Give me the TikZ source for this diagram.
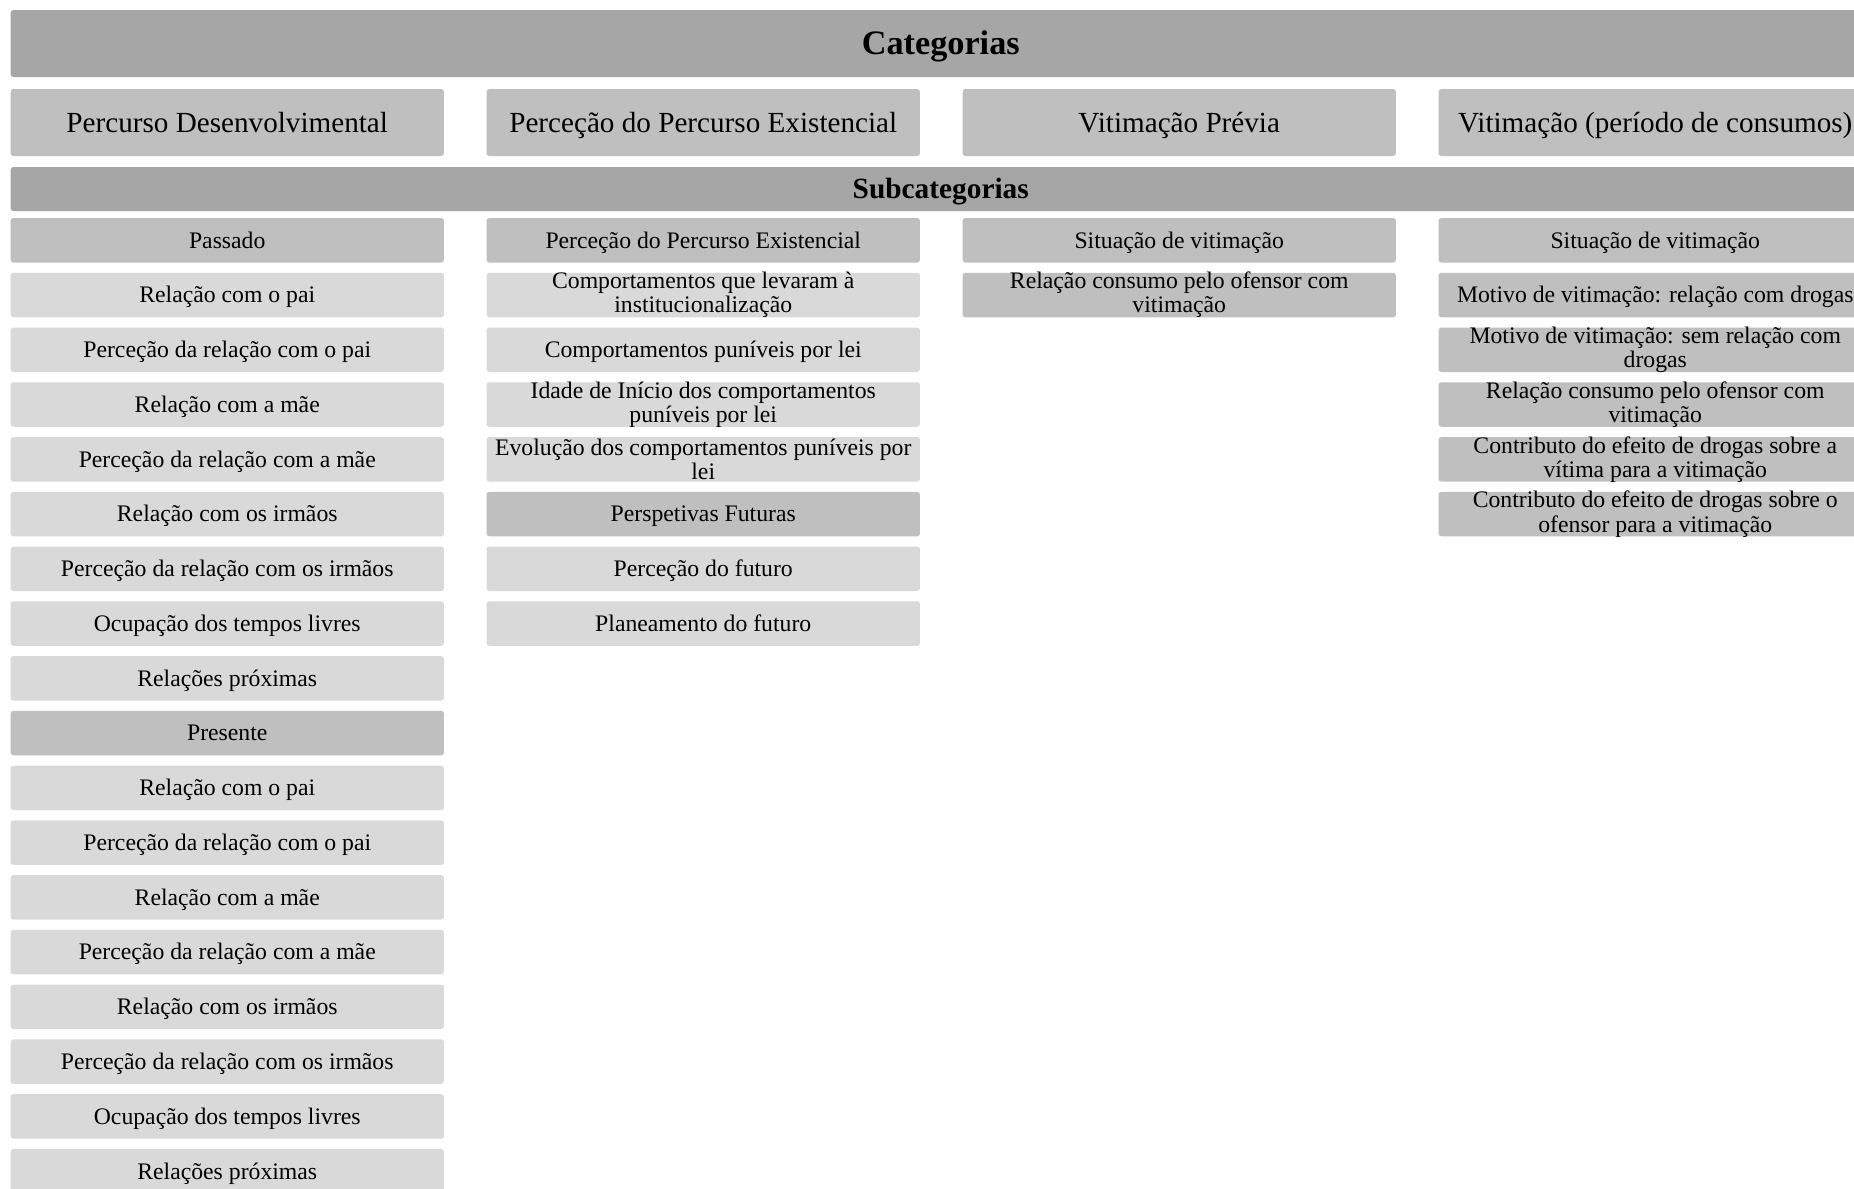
\documentclass[tikz,border=0pt]{standalone}
\usepackage{fontspec}
\setmainfont{Liberation Serif}

\definecolor{headgray}{HTML}{A6A6A6}
\definecolor{catgray}{HTML}{BFBFBF}
\definecolor{itemgray}{HTML}{D9D9D9}

\tikzset{
  box/.style={rectangle, rounded corners=1.6pt, inner sep=0pt,
    minimum width=8.67cm, minimum height=0.89cm, text depth=0pt},
  headbar/.style={box, fill=headgray, minimum width=37.21cm},
  catbox/.style={box, fill=catgray, minimum height=1.34cm,
    font=\fontsize{16.6}{18}\selectfont, text height=11pt},
  subbox/.style={box, fill=catgray},
  itembox/.style={box, fill=itemgray},
  every label/.style={inner sep=0pt, align=center,
    font=\fontsize{13.5}{13.8}\selectfont,
    text height=8.9pt, text depth=0pt},
  twoline/.style={text height={}, text depth={}},
}

\begin{document}
\begin{tikzpicture}[x=0.02cm, y=-0.02cm]
% Set the page size (the right column runs off the page)
\clip (0, 0) rectangle (1854, 1188);

% Draw the headers
\node[headbar, minimum height=1.34cm, text height=12.9pt, font=\fontsize{19.5}{21}\selectfont\bfseries] (cat) at (940.75, 43.5) {Categorias};
\node[headbar, minimum height=0.88cm, text height=11.1pt, font=\fontsize{16.7}{18}\selectfont\bfseries] (sub) at (940.75, 189) {Subcategorias};

% Draw the categories
\node[catbox] (pd) at (227.25, 122.5) {Percurso Desenvolvimental};
\node[catbox] (pe) at (703.25, 122.5) {Perceção do Percurso Existencial};
\node[catbox] (vp) at (1179.25, 122.5) {Vitimação Prévia};
\node[catbox] (vc) at (1655.25, 122.5) {Vitimação (período de consumos)};

% Percurso Desenvolvimental
\node[subbox, label={center:Passado}] (p0) at (227.25, 240.25) {};
\node[itembox, label={center:Relação com o pai}] (p1) at (227.25, 295.01) {};
\node[itembox, label={center:Perceção da relação com o pai}] (p2) at (227.25, 349.77) {};
\node[itembox, label={center:Relação com a mãe}] (p3) at (227.25, 404.53) {};
\node[itembox, label={center:Perceção da relação com a mãe}] (p4) at (227.25, 459.29) {};
\node[itembox, label={center:Relação com os irmãos}] (p5) at (227.25, 514.05) {};
\node[itembox, label={center:Perceção da relação com os irmãos}] (p6) at (227.25, 568.81) {};
\node[itembox, label={center:Ocupação dos tempos livres}] (p7) at (227.25, 623.57) {};
\node[itembox, label={center:Relações próximas}] (p8) at (227.25, 678.33) {};
\node[subbox, label={center:Presente}] (p9) at (227.25, 733.09) {};
\node[itembox, label={center:Relação com o pai}] (p10) at (227.25, 787.85) {};
\node[itembox, label={center:Perceção da relação com o pai}] (p11) at (227.25, 842.61) {};
\node[itembox, label={center:Relação com a mãe}] (p12) at (227.25, 897.37) {};
\node[itembox, label={center:Perceção da relação com a mãe}] (p13) at (227.25, 952.13) {};
\node[itembox, label={center:Relação com os irmãos}] (p14) at (227.25, 1006.89) {};
\node[itembox, label={center:Perceção da relação com os irmãos}] (p15) at (227.25, 1061.65) {};
\node[itembox, label={center:Ocupação dos tempos livres}] (p16) at (227.25, 1116.41) {};
\node[itembox, label={center:Relações próximas}] (p17) at (227.25, 1171.17) {};

% Perceção do Percurso Existencial
\node[subbox, label={center:Perceção do Percurso Existencial}] (e0) at (703.25, 240.25) {};
\node[itembox, label={[twoline]center:{Comportamentos que levaram à\\institucionalização}}] (e1) at (703.25, 295.01) {};
\node[itembox, label={center:Comportamentos puníveis por lei}] (e2) at (703.25, 349.77) {};
\node[itembox, label={[twoline]center:{Idade de Início dos comportamentos\\puníveis por lei}}] (e3) at (703.25, 404.53) {};
\node[itembox, label={[twoline]center:{Evolução dos comportamentos puníveis por\\lei}}] (e4) at (703.25, 459.29) {};
\node[subbox, label={center:Perspetivas Futuras}] (e5) at (703.25, 514.05) {};
\node[itembox, label={center:Perceção do futuro}] (e6) at (703.25, 568.81) {};
\node[itembox, label={center:Planeamento do futuro}] (e7) at (703.25, 623.57) {};

% Vitimação Prévia
\node[subbox, label={center:Situação de vitimação}] (v0) at (1179.25, 240.25) {};
\node[subbox, label={[twoline]center:{Relação consumo pelo ofensor com\\vitimação}}] (v1) at (1179.25, 295.01) {};

% Vitimação (período de consumos)
\node[subbox, label={center:Situação de vitimação}] (c0) at (1655.25, 240.25) {};
\node[subbox, label={center:Motivo de vitimação: relação com drogas}] (c1) at (1655.25, 295.01) {};
\node[subbox, label={[twoline]center:{Motivo de vitimação: sem relação com\\drogas}}] (c2) at (1655.25, 349.77) {};
\node[subbox, label={[twoline]center:{Relação consumo pelo ofensor com\\vitimação}}] (c3) at (1655.25, 404.53) {};
\node[subbox, label={[twoline]center:{Contributo do efeito de drogas sobre a\\vítima para a vitimação}}] (c4) at (1655.25, 459.29) {};
\node[subbox, label={[twoline]center:{Contributo do efeito de drogas sobre o\\ofensor para a vitimação}}] (c5) at (1655.25, 514.05) {};
\end{tikzpicture}
\end{document}
